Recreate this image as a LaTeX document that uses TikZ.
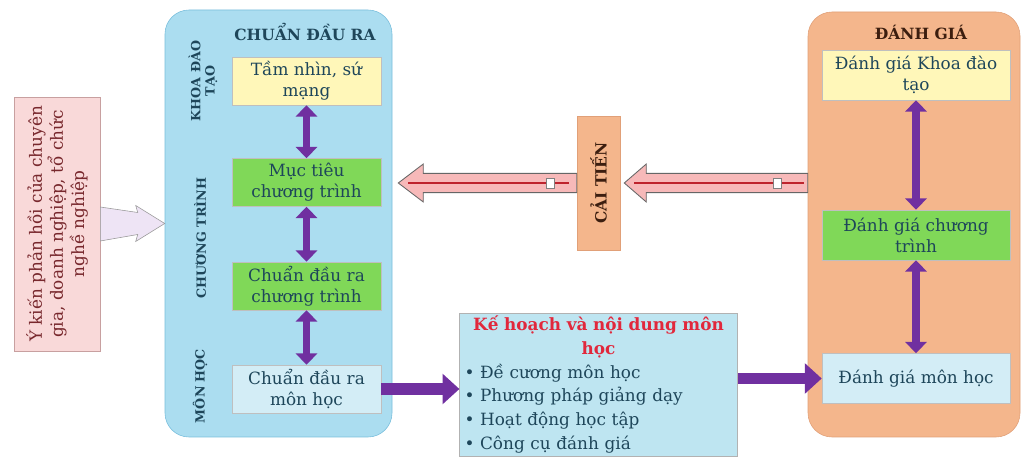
\documentclass[tikz,border=0pt]{standalone}
\usepackage{fontspec}
\setmainfont{DejaVu Serif}
\usetikzlibrary{arrows.meta,calc}

\definecolor{cdrblue}{RGB}{171,221,240}
\definecolor{cdrline}{RGB}{120,190,220}
\definecolor{dgorange}{RGB}{244,182,140}
\definecolor{dgline}{RGB}{225,160,120}
\definecolor{tnyellow}{RGB}{255,247,185}
\definecolor{ctgreen}{RGB}{128,216,88}
\definecolor{mhblue}{RGB}{211,237,246}
\definecolor{khblue}{RGB}{190,229,241}
\definecolor{ykpink}{RGB}{249,217,217}
\definecolor{ykline}{RGB}{200,160,160}
\definecolor{arrpink}{RGB}{247,185,185}
\definecolor{arrpurple}{RGB}{112,48,160}
\definecolor{darkteal}{RGB}{30,70,90}
\definecolor{darkbrown}{RGB}{60,30,15}
\definecolor{khred}{RGB}{225,40,60}
\definecolor{ykbrown}{RGB}{120,40,45}
\definecolor{hollowfill}{RGB}{238,228,245}
\definecolor{redline}{RGB}{190,35,45}

\tikzset{
  inbox/.style={draw=gray!50, minimum height=1.2cm, align=center, text=darkteal, font=\fontsize{12}{15}\selectfont, inner sep=1pt},
  leftbox/.style={inbox, minimum width=3.725cm},
  rightbox/.style={inbox, minimum width=4.7cm, minimum height=1.25cm},
  sidelabel/.style={rotate=90, align=center, font=\fontsize{9}{10}\selectfont\bfseries, text=darkteal},
  boxtitle/.style={font=\fontsize{11}{13}\selectfont\bfseries},
  dblarrow/.style={draw=arrpurple, line width=5.5pt, {Triangle[length=8pt,width=15pt]}-{Triangle[length=8pt,width=15pt]}},
  fatarrow/.style={draw=arrpurple, line width=8.5pt, -{Triangle[length=12pt,width=21pt]}},
  pinkarrow/.style={fill=arrpink, draw=gray!80!black, line width=0.6pt},
}

\begin{document}
\begin{tikzpicture}
\useasboundingbox[fill=white] (0,0) rectangle (25.7,11.525);

\node[draw=ykline, fill=ykpink, minimum width=2.15cm, minimum height=6.35cm] (ykien) at (1.425,5.925) {};
\node[rotate=90, align=center, text=ykbrown, font=\fontsize{12}{15}\selectfont] (ykientxt) at (ykien) {Ý kiến phản hồi của chuyên\\gia, doanh nghiệp, tổ chức\\nghề nghiệp};

\node[draw=cdrline, fill=cdrblue, rounded corners=0.6cm, minimum width=5.675cm, minimum height=10.675cm] (cdr) at (6.9625,5.9375) {};
\node[boxtitle, text=darkteal] (cdrtitle) at (7.625,10.725) {CHUẨN ĐẦU RA};
\node[sidelabel] (lbkhoa) at (5.075,9.5) {KHOA ĐÀO\\TẠO};
\node[sidelabel] (lbct) at (5.0,5.575) {CHƯƠNG TRÌNH};
\node[sidelabel] (lbmh) at (5.0,1.875) {MÔN HỌC};

\node[leftbox, fill=tnyellow] (tamnhin) at (7.6625,9.5) {Tầm nhìn, sứ\\mạng};
\node[leftbox, fill=ctgreen] (muctieu) at (7.6625,6.9625) {Mục tiêu\\chương trình};
\node[leftbox, fill=ctgreen] (cdrct) at (7.6625,4.375) {Chuẩn đầu ra\\chương trình};
\node[leftbox, fill=mhblue] (cdrmh) at (7.6625,1.8) {Chuẩn đầu ra\\môn học};
\draw[dblarrow] (tamnhin) to (muctieu);
\draw[dblarrow] (muctieu) to (cdrct);
\draw[dblarrow] (cdrct) to (cdrmh);

\node[draw=dgline, fill=dgorange, rounded corners=0.6cm, minimum width=5.3cm, minimum height=10.625cm] (dg) at (22.85,5.9125) {};
\node[boxtitle, text=darkbrown] (dgtitle) at (23.025,10.725) {ĐÁNH GIÁ};
\node[rightbox, fill=tnyellow] (dgkhoa) at (22.9,9.65) {Đánh giá Khoa đào\\tạo};
\node[rightbox, fill=ctgreen] (dgct) at (22.9,5.65) {Đánh giá chương\\trình};
\node[rightbox, fill=mhblue] (dgmh) at (22.9,2.0625) {Đánh giá môn học};
\draw[dblarrow] (dgkhoa) to (dgct);
\draw[dblarrow] (dgct) to (dgmh);

\node[draw=gray!60, fill=khblue, text width=6.7cm, minimum height=3.575cm, inner xsep=0.12cm, inner ysep=0pt, align=left, font=\fontsize{12}{17}\selectfont, text=darkteal] (kehoach) at (14.9625,1.9125) {{\centering\bfseries\color{khred}Kế hoạch và nội dung môn\\học\par}\textbullet\ Đề cương môn học\\\textbullet\ Phương pháp giảng dạy\\\textbullet\ Hoạt động học tập\\\textbullet\ Công cụ đánh giá};
\draw[fatarrow] (cdrmh.east) to (cdrmh.east -| kehoach.west);
\draw[fatarrow] (kehoach.east |- dgmh.west) to (dgmh.west);

\node[draw=dgline, fill=dgorange, minimum width=1.075cm, minimum height=3.35cm] (caitien) at (14.9625,6.95) {};
\node[rotate=90, font=\fontsize{11}{13}\selectfont\bfseries, text=darkbrown] (caitientxt) at (caitien) {CẢI TIẾN};

\coordinate (t1) at (caitien.west);
\coordinate (p1) at ($(cdr.east |- caitien.west)+(0.15,0)$);
\coordinate (t2) at (dg.west |- caitien.east);
\coordinate (p2) at ($(caitien.east)+(0.1,0)$);
\filldraw[pinkarrow] ($(t1)+(0,0.24)$) -- ($(p1)+(0.625,0.24)$) -- ($(p1)+(0.625,0.475)$) -- (p1) -- ($(p1)+(0.625,-0.475)$) -- ($(p1)+(0.625,-0.24)$) -- ($(t1)+(0,-0.24)$) -- cycle;
\filldraw[pinkarrow] ($(t2)+(0,0.24)$) -- ($(p2)+(0.55,0.24)$) -- ($(p2)+(0.55,0.475)$) -- (p2) -- ($(p2)+(0.55,-0.475)$) -- ($(p2)+(0.55,-0.24)$) -- ($(t2)+(0,-0.24)$) -- cycle;
\draw[redline, line width=1.5pt] ($(p1)+(0.25,0)$) to ($(t1)+(-0.2,0)$);
\draw[redline, line width=1.5pt] ($(p2)+(0.25,0)$) to ($(t2)+(-0.1,0)$);
\draw[fill=white, draw=gray] ($(t1)+(-0.75,-0.12)$) rectangle ($(t1)+(-0.55,0.12)$);
\draw[fill=white, draw=gray] ($(t2)+(-0.85,-0.12)$) rectangle ($(t2)+(-0.65,0.12)$);

\coordinate (ht) at (ykien.east);
\coordinate (hp) at (cdr.west);
\filldraw[fill=hollowfill, draw=gray!80] ($(ht)+(0,0.425)$) -- ($(hp)+(-0.675,0.275)$) -- ($(hp)+(-0.725,0.45)$) -- (hp) -- ($(hp)+(-0.725,-0.45)$) -- ($(hp)+(-0.675,-0.275)$) -- ($(ht)+(0,-0.425)$) -- cycle;
\end{tikzpicture}
\end{document}
